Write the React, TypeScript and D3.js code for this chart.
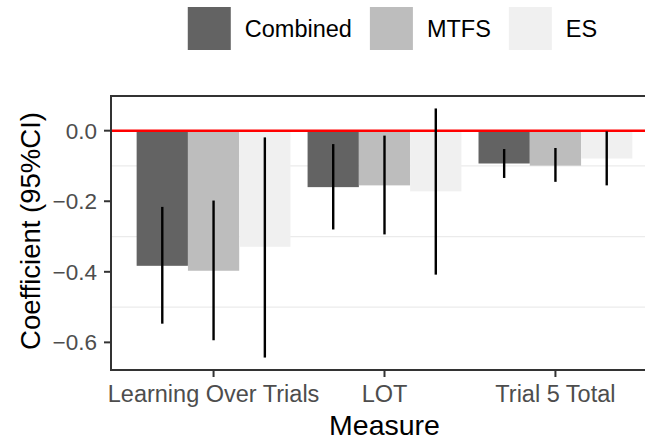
import * as d3 from 'd3';
import { useEffect, useRef } from 'react';

const measures = ['Learning Over Trials', 'LOT', 'Trial 5 Total'];
const groups = ['Combined', 'MTFS', 'ES'];
const groupColors = ['#636363', '#bdbdbd', '#f0f0f0'];

// coefficient per measure, one array per group
const estimates = [
  [-0.383, -0.16, -0.093],
  [-0.397, -0.155, -0.099],
  [-0.329, -0.172, -0.079]
];
const lowerCI = [
  [-0.547, -0.28, -0.134],
  [-0.594, -0.294, -0.145],
  [-0.643, -0.408, -0.155]
];
const upperCI = [
  [-0.216, -0.038, -0.052],
  [-0.198, -0.014, -0.049],
  [-0.019, 0.063, -0.002]
];
const yTicks = [0, -0.2, -0.4, -0.6];
const yMinor = [-0.1, -0.3, -0.5];

const W = 645;
const H = 440;
const FONT = '"Liberation Sans", Arial, Helvetica, sans-serif';

const App = () => {
  const ref = useRef<SVGSVGElement | null>(null);

  useEffect(() => {
    if (!ref.current) return;
    const svg = d3.select(ref.current);
    svg.selectAll('*').remove();

    const left = 111;
    const right = 658; // panel runs past the picture edge
    const top = 96;
    const bottom = 370;

    const all = [...lowerCI.flat(), ...upperCI.flat(), ...estimates.flat(), 0];
    const lo = d3.min(all)!;
    const hi = d3.max(all)!;
    const pad = (hi - lo) * 0.05;
    const y = d3.scaleLinear().domain([lo - pad, hi + pad]).range([bottom, top]);

    const x = d3.scaleBand<string>()
      .domain(measures)
      .range([left, right])
      .paddingInner(0.1)
      .paddingOuter(0.15);
    const xg = d3.scaleBand<string>().domain(groups).range([0, x.bandwidth()]);

    const rows = groups.flatMap((g, gi) =>
      measures.map((m, mi) => ({
        g, gi, m,
        est: estimates[gi][mi],
        low: lowerCI[gi][mi],
        high: upperCI[gi][mi]
      }))
    );

    // minor grid
    svg.append('g')
      .selectAll('line')
      .data(yMinor)
      .enter()
      .append('line')
      .attr('x1', left).attr('x2', right)
      .attr('y1', d => y(d)).attr('y2', d => y(d))
      .attr('stroke', '#ebebeb')
      .attr('stroke-width', 1.2);

    // bars
    svg.append('g')
      .selectAll('rect')
      .data(rows)
      .enter()
      .append('rect')
      .attr('x', d => x(d.m)! + xg(d.g)!)
      .attr('width', xg.bandwidth())
      .attr('y', d => Math.min(y(d.est), y(0)))
      .attr('height', d => Math.abs(y(d.est) - y(0)))
      .attr('fill', d => groupColors[d.gi]);

    // zero line
    svg.append('line')
      .attr('x1', left).attr('x2', right)
      .attr('y1', y(0)).attr('y2', y(0))
      .attr('stroke', '#ff0000')
      .attr('stroke-width', 2.6);

    // CI lines
    svg.append('g')
      .selectAll('line')
      .data(rows)
      .enter()
      .append('line')
      .attr('x1', d => x(d.m)! + xg(d.g)! + xg.bandwidth() / 2)
      .attr('x2', d => x(d.m)! + xg(d.g)! + xg.bandwidth() / 2)
      .attr('y1', d => y(d.low))
      .attr('y2', d => y(d.high))
      .attr('stroke', '#000')
      .attr('stroke-width', 2.4);

    // panel border
    svg.append('rect')
      .attr('x', left).attr('y', top)
      .attr('width', right - left).attr('height', bottom - top)
      .attr('fill', 'none')
      .attr('stroke', '#333333')
      .attr('stroke-width', 2);

    // y axis
    const ya = svg.append('g').attr('font-family', FONT);
    ya.selectAll('line')
      .data(yTicks)
      .enter()
      .append('line')
      .attr('x1', left - 7).attr('x2', left)
      .attr('y1', d => y(d)).attr('y2', d => y(d))
      .attr('stroke', '#333333')
      .attr('stroke-width', 2);
    ya.selectAll('text')
      .data(yTicks)
      .enter()
      .append('text')
      .attr('x', left - 14)
      .attr('y', d => y(d))
      .attr('dy', '0.36em')
      .attr('text-anchor', 'end')
      .attr('font-size', 22.5)
      .attr('fill', '#4d4d4d')
      .text(d => d3.format('.1f')(d).replace('-', '\u2212'));

    // x axis
    const xa = svg.append('g').attr('font-family', FONT);
    xa.selectAll('line')
      .data(measures)
      .enter()
      .append('line')
      .attr('x1', d => x(d)! + x.bandwidth() / 2)
      .attr('x2', d => x(d)! + x.bandwidth() / 2)
      .attr('y1', bottom).attr('y2', bottom + 7)
      .attr('stroke', '#333333')
      .attr('stroke-width', 2);
    xa.selectAll('text')
      .data(measures)
      .enter()
      .append('text')
      .attr('x', d => x(d)! + x.bandwidth() / 2)
      .attr('y', 401.5)
      .attr('text-anchor', 'middle')
      .attr('font-size', 23.5)
      .attr('fill', '#4d4d4d')
      .text(d => d);

    // axis titles
    svg.append('text')
      .attr('x', (left + right) / 2)
      .attr('y', 435)
      .attr('text-anchor', 'middle')
      .attr('font-family', FONT)
      .attr('font-size', 28.5)
      .attr('fill', '#000')
      .text('Measure');
    svg.append('text')
      .attr('transform', `translate(40, 231) rotate(-90)`)
      .attr('text-anchor', 'middle')
      .attr('font-family', FONT)
      .attr('font-size', 27.5)
      .attr('fill', '#000')
      .text('Coefficient (95%CI)');

    // legend
    const lg = svg.append('g').attr('font-family', FONT);
    const key = 43;
    const items = groups.map((g, i) => {
      const it = lg.append('g');
      it.append('rect')
        .attr('width', key).attr('height', key)
        .attr('y', 7)
        .attr('fill', groupColors[i]);
      const t = it.append('text')
        .attr('x', key + 14)
        .attr('y', 36.7)
        .attr('font-size', 23.5)
        .attr('fill', '#000')
        .text(g);
      const tw = (t.node() as SVGTextElement).getComputedTextLength();
      return { it, w: key + 14 + tw };
    });
    const gap = 18;
    const total = d3.sum(items, d => d.w) + gap * (items.length - 1);
    let cx = 392.5 - total / 2;
    items.forEach(d => {
      d.it.attr('transform', `translate(${cx},0)`);
      cx += d.w + gap;
    });
  }, []);

  return (
    <svg
      ref={ref}
      width={W}
      height={H}
      style={{ position: 'absolute', left: 0, top: 0, background: '#fff' }}
    />
  );
};

export default App;
